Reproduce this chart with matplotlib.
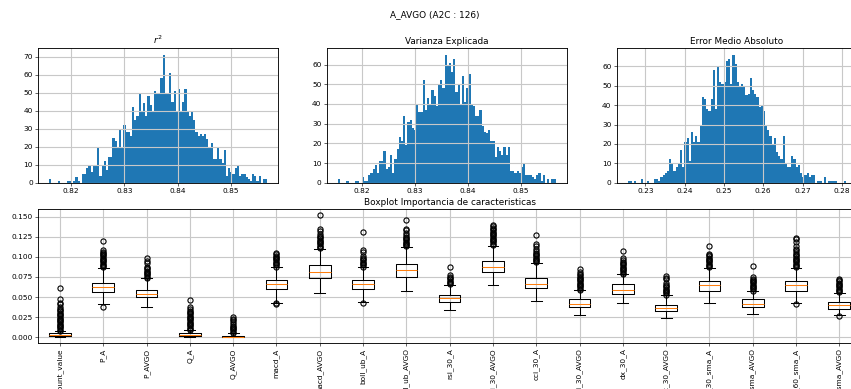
import numpy as np
import matplotlib
matplotlib.use("Agg")
import matplotlib.pyplot as plt

# --- histogramas (100 bins) ---
r2_range = (0.8159, 0.8568)
r2_counts = [2, 0, 0, 0, 1, 0, 0, 0, 1, 1, 0, 1, 3, 1, 0, 5, 5, 8, 10, 6,
             9, 10, 19, 4, 10, 12, 7, 14, 14, 25, 23, 19, 30, 19, 32, 28, 28, 26, 42, 35,
             37, 49, 40, 44, 37, 48, 43, 40, 51, 49, 50, 58, 71, 50, 50, 61, 45, 51, 40, 52,
             40, 45, 52, 40, 37, 39, 35, 28, 26, 27, 26, 27, 24, 20, 22, 13, 13, 20, 13, 11,
             18, 4, 8, 6, 5, 8, 10, 4, 5, 5, 3, 2, 1, 5, 4, 1, 4, 0, 2, 2]

var_range = (0.8155, 0.8565)
var_counts = [2, 0, 0, 0, 1, 0, 0, 0, 1, 1, 0, 3, 1, 1, 4, 5, 7, 9, 5, 11,
              11, 16, 7, 8, 14, 5, 12, 17, 23, 21, 34, 19, 31, 32, 28, 27, 40, 36, 36, 52,
              37, 43, 40, 47, 44, 39, 50, 52, 48, 65, 60, 61, 56, 63, 46, 50, 40, 54, 41, 48,
              55, 40, 39, 34, 34, 37, 29, 26, 25, 27, 21, 21, 13, 18, 16, 14, 18, 14, 18, 6,
              6, 5, 6, 5, 8, 10, 4, 4, 4, 3, 2, 4, 5, 1, 4, 0, 2, 0, 2, 2]

mae_range = (0.2255, 0.2810)
mae_counts = [1, 1, 0, 1, 0, 0, 2, 0, 0, 1, 0, 0, 2, 2, 1, 3, 4, 5, 6, 12,
              10, 6, 8, 10, 17, 8, 21, 23, 11, 26, 21, 24, 21, 29, 44, 43, 38, 37, 43, 58,
              38, 60, 52, 51, 52, 63, 64, 51, 66, 61, 52, 50, 51, 50, 45, 46, 54, 48, 46, 44,
              39, 40, 37, 29, 27, 24, 20, 23, 16, 14, 12, 24, 10, 8, 8, 14, 12, 8, 9, 5,
              3, 4, 5, 3, 4, 4, 0, 1, 1, 0, 3, 0, 1, 1, 1, 1, 0, 0, 0, 1]

# --- boxplot importancia ---
features = ["amount_value", "P_A", "P_AVGO", "Q_A", "Q_AVGO", "macd_A", "macd_AVGO",
            "boll_ub_A", "boll_ub_AVGO", "rsi_30_A", "rsi_30_AVGO", "cci_30_A", "cci_30_AVGO",
            "dx_30_A", "dx_30_AVGO", "close_30_sma_A", "close_30_sma_AVGO",
            "close_60_sma_A", "close_60_sma_AVGO"]
whislo = [0.0, 0.0418, 0.0372, 0.0, 0.0, 0.0422, 0.0556, 0.0440, 0.0576, 0.0338,
          0.0648, 0.0447, 0.0276, 0.0430, 0.0242, 0.0426, 0.0291, 0.0430, 0.0272]
q1 = [0.0013, 0.0564, 0.0505, 0.0012, 0.0002, 0.0597, 0.0743, 0.0597, 0.0752, 0.0443,
      0.0806, 0.0610, 0.0380, 0.0543, 0.0322, 0.0576, 0.0380, 0.0576, 0.0355]
med = [0.0025, 0.0623, 0.0535, 0.0025, 0.0008, 0.0660, 0.0807, 0.0660, 0.0832, 0.0484,
       0.0877, 0.0668, 0.0414, 0.0589, 0.0367, 0.0648, 0.0414, 0.0648, 0.0400]
q3 = [0.0054, 0.0680, 0.0589, 0.0050, 0.0020, 0.0710, 0.0898, 0.0710, 0.0911, 0.0526,
      0.0952, 0.0743, 0.0472, 0.0660, 0.0405, 0.0702, 0.0472, 0.0702, 0.0439]
whishi = [0.0075, 0.0861, 0.0731, 0.0088, 0.0054, 0.0877, 0.1098, 0.0877, 0.1120, 0.0652,
          0.1140, 0.0919, 0.0585, 0.0785, 0.0522, 0.0861, 0.0576, 0.0861, 0.0555]
fliers = [
    [0.008, 0.0095, 0.011, 0.0125, 0.014, 0.0155, 0.017, 0.0185, 0.020, 0.0215, 0.023,
     0.0245, 0.026, 0.0275, 0.029, 0.0305, 0.032, 0.0335, 0.035, 0.038, 0.041, 0.043,
     0.047, 0.061],
    [0.037, 0.087, 0.0885, 0.090, 0.0915, 0.093, 0.0945, 0.096, 0.0975, 0.099, 0.1005,
     0.102, 0.1035, 0.105, 0.1065, 0.108, 0.120],
    [0.074, 0.0755, 0.077, 0.0785, 0.080, 0.0815, 0.083, 0.0845, 0.086, 0.0875, 0.092,
     0.095, 0.098],
    [0.009, 0.0105, 0.012, 0.0135, 0.015, 0.0165, 0.018, 0.0195, 0.021, 0.0225, 0.024,
     0.0255, 0.027, 0.0285, 0.030, 0.0315, 0.033, 0.0345, 0.037, 0.046],
    [0.0055, 0.007, 0.0085, 0.010, 0.0115, 0.013, 0.0145, 0.016, 0.019, 0.021, 0.023, 0.025],
    [0.041, 0.043, 0.088, 0.0895, 0.091, 0.0925, 0.094, 0.0955, 0.097, 0.0985, 0.100,
     0.1015, 0.103, 0.105],
    [0.111, 0.1125, 0.114, 0.1155, 0.117, 0.1185, 0.120, 0.1215, 0.123, 0.1245, 0.126,
     0.128, 0.132, 0.135, 0.152],
    [0.043, 0.088, 0.0895, 0.091, 0.0925, 0.094, 0.0955, 0.097, 0.099, 0.101, 0.106,
     0.109, 0.131],
    [0.113, 0.1145, 0.116, 0.1175, 0.119, 0.1205, 0.122, 0.1235, 0.125, 0.127, 0.130,
     0.133, 0.135, 0.146],
    [0.066, 0.0675, 0.069, 0.0705, 0.072, 0.0735, 0.075, 0.077, 0.088],
    [0.115, 0.1165, 0.118, 0.1195, 0.121, 0.1225, 0.124, 0.1255, 0.127, 0.1285, 0.130,
     0.1315, 0.133, 0.1345, 0.136, 0.138, 0.140],
    [0.093, 0.0945, 0.096, 0.0975, 0.099, 0.1005, 0.102, 0.1035, 0.105, 0.107, 0.110,
     0.113, 0.116, 0.127],
    [0.059, 0.0605, 0.062, 0.0635, 0.065, 0.0665, 0.068, 0.0695, 0.071, 0.0725, 0.074,
     0.0755, 0.077, 0.079, 0.081, 0.085],
    [0.079, 0.0805, 0.082, 0.0835, 0.085, 0.0865, 0.088, 0.0895, 0.091, 0.0925, 0.094,
     0.096, 0.099, 0.107],
    [0.053, 0.0545, 0.056, 0.0575, 0.059, 0.0605, 0.062, 0.0635, 0.065, 0.067, 0.072,
     0.074, 0.076],
    [0.087, 0.0885, 0.090, 0.0915, 0.093, 0.0945, 0.096, 0.0975, 0.099, 0.1005, 0.102,
     0.104, 0.114],
    [0.058, 0.0595, 0.061, 0.0625, 0.064, 0.0655, 0.067, 0.0685, 0.070, 0.0715, 0.073,
     0.075, 0.089],
    [0.041, 0.087, 0.0885, 0.090, 0.0915, 0.093, 0.0945, 0.096, 0.0975, 0.099, 0.1005,
     0.102, 0.104, 0.106, 0.108, 0.110, 0.114, 0.118, 0.122, 0.124],
    [0.026, 0.056, 0.0575, 0.059, 0.0605, 0.062, 0.0635, 0.065, 0.0665, 0.068, 0.0695,
     0.071, 0.072],
]

DPI = 851 / 16
fig = plt.figure(figsize=(16, 389 / DPI), dpi=DPI)
plt.rcParams['axes.linewidth'] = 1.2

def hist(ax, rng, counts, title, xticks, yticks):
    edges = np.linspace(rng[0], rng[1], len(counts) + 1)
    ax.hist(edges[:-1], bins=edges, weights=counts, color='#1f77b4')
    ax.set_title(title)
    ax.set_xticks(xticks)
    ax.set_yticks(yticks)
    # la rejilla queda encima de las barras, como en pandas
    ax.grid(True, color='#c8c8c8', linewidth=1.5)

ax1 = fig.add_axes([0.045, 0.5303, 0.282, 0.3455])
hist(ax1, r2_range, r2_counts, "$r^2$", [0.82, 0.83, 0.84, 0.85], range(0, 71, 10))
ax2 = fig.add_axes([0.3839, 0.5303, 0.282, 0.3455])
hist(ax2, var_range, var_counts, "Varianza Explicada", [0.82, 0.83, 0.84, 0.85], range(0, 61, 10))
ax3 = fig.add_axes([0.7247, 0.5303, 0.282, 0.3455])
hist(ax3, mae_range, mae_counts, "Error Medio Absoluto",
     [0.23, 0.24, 0.25, 0.26, 0.27, 0.28], range(0, 61, 10))

fig.text(0.511, 0.963, "A_AVGO (A2C : 126)", ha='center', va='center', fontsize=12)

# Boxplot
ax4 = fig.add_axes([0.045, 0.1175, 0.9667, 0.3452])
stats = []
for i, name in enumerate(features):
    stats.append(dict(label=name, whislo=whislo[i], q1=q1[i], med=med[i],
                      q3=q3[i], whishi=whishi[i], fliers=fliers[i]))
ax4.bxp(stats,
        boxprops=dict(linewidth=1.4),
        whiskerprops=dict(linewidth=1.4),
        capprops=dict(linewidth=1.4),
        medianprops=dict(color='#ff7f0e', linewidth=1.4),
        flierprops=dict(marker='o', markerfacecolor='none', markeredgecolor='black',
                        markersize=7, markeredgewidth=1.5))
ax4.set_title("Boxplot Importancia de caracteristicas")
ax4.set_yticks([0.0, 0.025, 0.05, 0.075, 0.1, 0.125, 0.15])
ax4.set_yticklabels(["0.000", "0.025", "0.050", "0.075", "0.100", "0.125", "0.150"])
ax4.tick_params(axis='x', labelrotation=90)
ax4.grid(True, color='#c8c8c8', linewidth=1.5)
ax4.set_axisbelow(True)

fig.savefig("out.png", dpi=DPI)
